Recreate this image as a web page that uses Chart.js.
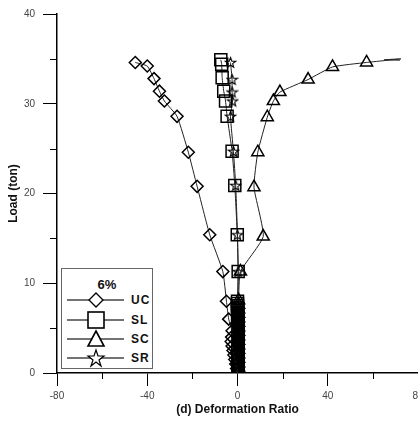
<!DOCTYPE html>
<html>
<head>
<meta charset="utf-8">
<script src="https://cdn.jsdelivr.net/npm/chart.js@4.4.1/dist/chart.umd.min.js"></script>
<style>
  html, body { margin: 0; padding: 0; background: #fff; }
  #wrap { position: relative; width: 418px; height: 421px; overflow: hidden; }
  #chart { position: absolute; left: 0; top: 0; }
  #legend {
    position: absolute; left: 61px; top: 268px; width: 90px; height: 99px;
    border: 1.5px solid #666; background: #fff;
    font-family: "Liberation Sans", Arial, sans-serif; font-weight: bold; font-size: 12px; color: #111;
  }
  #legend .ttl { position: absolute; left: 0; width: 90px; top: 8px; text-align: center; font-size: 13px; }
  #legend .row { position: absolute; left: 5px; height: 20px; }
  #legend .row svg { position: absolute; left: 0; top: 0; }
  #legend .row span { position: absolute; left: 64px; top: 3px; letter-spacing: 1px; }
</style>
</head>
<body>
<div id="wrap">
  <canvas id="chart" width="440" height="421" style="width:440px;height:421px"></canvas>
  <div id="legend">
    <div class="ttl">6%</div>
    <div class="row" style="top:21px">
      <svg width="60" height="20"><line x1="0" y1="10" x2="57" y2="10" stroke="#444" stroke-width="1.5"/>
        <polygon points="29,3 36,10 29,17 22,10" fill="#fff" stroke="#000" stroke-width="1.3"/></svg>
      <span>UC</span>
    </div>
    <div class="row" style="top:41px">
      <svg width="60" height="20"><line x1="0" y1="10" x2="57" y2="10" stroke="#444" stroke-width="1.5"/>
        <rect x="21" y="2" width="16" height="16" fill="#fff" stroke="#000" stroke-width="1.6"/></svg>
      <span>SL</span>
    </div>
    <div class="row" style="top:60px">
      <svg width="60" height="20"><line x1="0" y1="10" x2="57" y2="10" stroke="#444" stroke-width="1.5"/>
        <polygon points="29,2 37,17 21,17" fill="#fff" stroke="#000" stroke-width="1.6"/></svg>
      <span>SC</span>
    </div>
    <div class="row" style="top:79px">
      <svg width="60" height="20"><line x1="0" y1="10" x2="57" y2="10" stroke="#444" stroke-width="1.5"/>
        <polygon points="29,2 31,8 37,8 32,12 34,18 29,14 24,18 26,12 21,8 27,8" fill="#fff" stroke="#000" stroke-width="1.2"/></svg>
      <span>SR</span>
    </div>
  </div>
</div>
<script>
// UC - diamonds
const ucRatio = [0, -0.4, -0.8, -1.2, -1.6, -2.0, -2.4, -2.8, -2.6, -2.4, -3.9, -4.9, -6.5, -12.3, -17.9, -21.8, -26.8, -32.4, -34.6, -37.0, -40.0, -45.3];
const ucLoad  = [0, 0.5, 1.0, 1.5, 2.0, 2.5, 3.0, 3.5, 4.0, 4.7, 6.0, 8.0, 11.3, 15.4, 20.8, 24.6, 28.6, 30.3, 31.4, 32.8, 34.2, 34.6];

// SL - squares
const slRatio = [0.3, 0.3, 0.3, 0.3, 0.3, 0.3, 0.3, 0.3, 0.3, 0.3, 0.3, 0.3, 0.2, 0.2, 0.2, 0.2, 0.2,
                 0.2, 0.2, 0.2, 0.2, 0.1, 0.1, 0.1, 0.1, 0.1, 0.1, 0.1, 0.1, 0, 0, 0, 0,
                 0.3, -0.1, -1.2, -2.4, -4.6, -5.3, -6.1, -6.8, -7.0, -7.4];
const slLoad  = [0, 0.25, 0.5, 0.75, 1.0, 1.25, 1.5, 1.75, 2.0, 2.25, 2.5, 2.75, 3.0, 3.25, 3.5, 3.75, 4.0,
                 4.25, 4.5, 4.75, 5.0, 5.25, 5.5, 5.75, 6.0, 6.25, 6.5, 6.75, 7.0, 7.25, 7.5, 7.75, 8.0,
                 11.3, 15.4, 20.9, 24.7, 28.6, 30.3, 31.4, 32.9, 34.4, 34.9];

// SC - triangles (last three readings unmarked)
const scRatio = [0.5, 0.5, 0.5, 0.5, 0.5, 0.5, 0.5, 0.5, 0.5, 0.5, 0.5, 0.5, 0.5, 0.5, 0.5, 0.5, 0.5,
                 1.3, 11.4, 7.3, 9.0, 13.2, 15.9, 18.8, 31.3, 42.1, 57.2, 72.4, 65.0, 72.0];
const scLoad  = [0.1, 0.6, 1.1, 1.6, 2.1, 2.6, 3.1, 3.6, 4.1, 4.6, 5.1, 5.6, 6.1, 6.6, 7.1, 7.6, 8.1,
                 11.3, 15.2, 20.7, 24.6, 28.5, 30.3, 31.3, 32.7, 34.1, 34.6, 35.0, 34.9, 34.85];

// SR - stars
const srRatio = [0.2, 0.2, 0.2, 0.2, 0.2, 0.2, 0.2, 0.2, 0.2, 0.2, 0.2, 0.2, 0.2, 0.2, 0.2, 0.2,
                 0.3, 0, -0.8, -1.8, -3.1, -2.2, -2.4, -2.4, -3.1];
const srLoad  = [0.35, 0.85, 1.35, 1.85, 2.35, 2.85, 3.35, 3.85, 4.35, 4.85, 5.35, 5.85, 6.35, 6.85, 7.35, 7.85,
                 11.3, 15.4, 20.9, 24.7, 28.6, 30.3, 31.3, 32.7, 34.6];

const xMinor = [-60, -20, 20, 60];
const yMinor = [5, 15, 25, 35];

function pts(xs, ys) {
    return xs.map((v, i) => ({x: v, y: ys[i]}));
}

function makeStar(size, lw) {
    const c = document.createElement('canvas');
    c.width = size; c.height = size;
    const ctx = c.getContext('2d');
    const r = size / 2 - lw, ri = r * 0.42, cx = size / 2, cy = size / 2 + r * 0.08;
    ctx.beginPath();
    for (let i = 0; i < 10; i++) {
        const a = -Math.PI / 2 + i * Math.PI / 5;
        const rr = i % 2 ? ri : r;
        ctx.lineTo(cx + rr * Math.cos(a), cy + rr * Math.sin(a));
    }
    ctx.closePath();
    ctx.lineWidth = lw;
    ctx.strokeStyle = '#000';
    ctx.stroke();
    return c;
}

const minorTicks = {
    id: 'minorTicks',
    afterDraw(chart) {
        const {ctx, scales: {x, y}} = chart;
        ctx.save();
        ctx.strokeStyle = '#000';
        ctx.lineWidth = 1;
        xMinor.forEach(v => {
            const px = Math.round(x.getPixelForValue(v)) + 0.5;
            ctx.beginPath(); ctx.moveTo(px, y.bottom); ctx.lineTo(px, y.bottom + 6); ctx.stroke();
        });
        yMinor.forEach(v => {
            const py = Math.round(y.getPixelForValue(v)) + 0.5;
            ctx.beginPath(); ctx.moveTo(x.left, py); ctx.lineTo(x.left - 7, py); ctx.stroke();
        });
        ctx.restore();
    }
};

const FONT = '"Liberation Sans", Arial, sans-serif';
Chart.defaults.font.family = FONT;

function series(label, xs, ys, style, radius) {
    return {
        label: label,
        data: pts(xs, ys),
        showLine: true,
        borderColor: '#222',
        borderWidth: 1,
        tension: 0.15,
        pointStyle: style,
        pointRadius: radius,
        pointBorderColor: '#000',
        pointBorderWidth: 1.5,
        pointBackgroundColor: 'rgba(0,0,0,0)'
    };
}

const star = makeStar(13, 1.1);

new Chart(document.getElementById('chart').getContext('2d'), {
    type: 'scatter',
    data: {
        datasets: [
            series('UC', ucRatio, ucLoad, 'rectRot', 6),
            series('SL', slRatio, slLoad, 'rect', 8.5),
            series('SC', scRatio, scLoad, 'triangle', scRatio.map((v, i) => i >= scRatio.length - 3 ? 0 : 7)),
            series('SR', srRatio, srLoad, star, 6)
        ]
    },
    options: {
        responsive: false,
        animation: false,
        layout: {padding: {top: 12, right: 22, left: 0, bottom: 0}},
        plugins: {
            legend: {display: false},
            tooltip: {enabled: false}
        },
        scales: {
            x: {
                type: 'linear',
                min: -80,
                max: 80,
                afterFit: s => { s.height = 48; },
                grid: {drawOnChartArea: false, tickLength: 13, color: '#000', tickWidth: 1},
                border: {display: true, color: '#000', width: 1.5},
                ticks: {stepSize: 40, color: '#444', font: {size: 10}, padding: 4},
                title: {display: true, text: '(d) Deformation Ratio', color: '#111',
                        font: {size: 12, weight: 'bold'}, padding: {top: 0, bottom: 4}}
            },
            y: {
                min: 0,
                max: 40,
                afterFit: s => { s.width = 57; },
                grid: {drawOnChartArea: false, tickLength: 14, color: '#000', tickWidth: 1},
                border: {display: true, color: '#000', width: 1.5},
                ticks: {stepSize: 10, color: '#444', font: {size: 10}, padding: 8},
                title: {display: true, text: 'Load (ton)', color: '#111',
                        font: {size: 12, weight: 'bold'}, padding: {top: 6, bottom: 0}}
            }
        }
    },
    plugins: [minorTicks]
});
</script>
</body>
</html>
